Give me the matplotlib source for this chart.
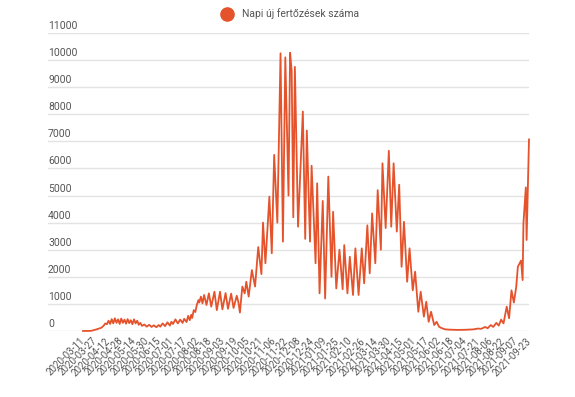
import matplotlib
matplotlib.use("Agg")
import matplotlib.pyplot as plt
from matplotlib.lines import Line2D
import matplotlib.transforms as mtransforms

plt.rcParams['font.family'] = ['Roboto', 'DejaVu Sans']

# ---- data ----
tick_labels = [
    "2020-03-11", "2020-03-27", "2020-04-12", "2020-04-28", "2020-05-14", "2020-05-30",
    "2020-06-15", "2020-07-01", "2020-07-17", "2020-08-02", "2020-08-18", "2020-09-03",
    "2020-09-19", "2020-10-05", "2020-10-21", "2020-11-06", "2020-11-22", "2020-12-08",
    "2020-12-24", "2021-01-09", "2021-01-25", "2021-02-10", "2021-02-26", "2021-03-14",
    "2021-03-30", "2021-04-15", "2021-05-01", "2021-05-17", "2021-06-02", "2021-06-18",
    "2021-07-04", "2021-07-21", "2021-08-06", "2021-08-22", "2021-09-07", "2021-09-23",
]
tick_step = 16

day_index = [
    0, 10, 17, 23, 26, 28, 30, 32, 34, 36, 38, 40, 42, 44, 46, 48, 50, 52, 54, 56, 58, 60,
    62, 64, 66, 68, 70, 72, 74, 77, 80, 83, 86, 89, 92, 95, 97, 100, 103, 106, 109, 111,
    113, 116, 119, 122, 125, 127, 130, 132, 134, 136, 137, 139, 141, 143, 145, 146, 148,
    150, 152, 155, 158, 161, 165, 168, 172, 175, 179, 182, 186, 189, 193, 195, 197, 200,
    203, 205, 208, 212, 216, 220, 224, 226, 229, 234, 237, 240, 244, 248, 251, 254, 258,
    260, 262, 264, 266, 270, 276, 279, 281, 285, 287, 292, 294, 297, 301, 304, 308, 312,
    314, 318, 322, 326, 328, 332, 335, 339, 342, 346, 350, 353, 357, 360, 363, 367, 370,
    374, 376, 380, 384, 387, 390, 394, 397, 400, 403, 407, 410, 414, 417, 421, 424, 428,
    431, 434, 437, 441, 444, 447, 450, 455, 460, 470, 480, 490, 496, 500, 505, 508, 512,
    515, 519, 522, 525, 528, 532, 535, 538, 541, 544, 546, 550, 552, 553, 556, 557, 560,
]
daily_cases = [
    0, 5, 60, 120, 200, 280, 250, 380, 260, 440, 280, 470, 300, 430, 260, 460, 300, 420, 270, 440, 290, 400,
    250, 430, 280, 380, 230, 300, 190, 240, 160, 230, 150, 210, 140, 220, 160, 280, 180, 320, 200, 340,
    260, 430, 280, 420, 300, 450, 330, 560, 400, 600, 480, 770, 700, 980, 1140, 1050, 1270,
    1020, 1330, 960, 1390, 900, 1450, 770, 1450, 800, 1400, 820, 1380, 850, 1300, 1080, 680, 1640,
    1390, 1820, 1270, 2250, 1640, 3100, 2100, 4000, 2500, 4960, 2870, 6500, 4000, 10250, 3300, 10100, 5000,
    10270, 9600, 4200, 9750, 3850, 8100, 3400, 7400, 3300, 6100, 2500, 5450, 1390, 4800, 1200, 5700, 2000,
    4400, 1570, 3000, 1540, 3170, 1390, 2740, 1330, 3050, 1330, 3050, 1760, 3900, 2130, 4340, 2500, 5200,
    3000, 6190, 3800, 6650, 3850, 6190, 3670, 5400, 2370, 4030, 1820, 3050, 1500, 2190, 710, 1450, 530,
    1080, 340, 710, 220, 340, 160, 110, 60, 50, 40, 45, 60, 90, 80, 150, 100, 220,
    150, 300, 200, 420, 280, 900, 470, 1500, 1050, 1640, 2370, 2600, 1880, 3970, 5300, 3360, 7070,
]
y_ticks = [0, 1000, 2000, 3000, 4000, 5000, 6000, 7000, 8000, 9000, 10000, 11000]
series_name = "Napi új fertőzések száma"

# ---- figure ----
W, H = 575, 397
fig = plt.figure(figsize=(W / 100, H / 100), dpi=100)
ax = fig.add_axes([48 / W, 1 - 331 / H, (529 - 48) / W, (331 - 33) / H])

line_color = "#e4532b"
text_color = "#555555"
grid_color = "#e3e3e3"

ax.set_xlim(-44, 560)
ax.set_ylim(0, 11000)

for v in y_ticks:
    ax.axhline(v, color=grid_color, lw=1.0, zorder=0)
    ax.text(0.0, v, str(v), transform=mtransforms.blended_transform_factory(ax.transAxes, ax.transData),
            ha="left", va="bottom", fontsize=7.5, color=text_color)

# shift y labels a bit up via offset
for t in ax.texts:
    t.set_transform(t.get_transform() + mtransforms.ScaledTranslation(0, 2 / 100, fig.dpi_scale_trans))

ax.plot(day_index, daily_cases, color=line_color, lw=1.3, clip_on=False, zorder=3,
        solid_joinstyle="round")

tick_pos = [i * tick_step for i in range(len(tick_labels))]
ax.set_xticks(tick_pos)
ax.set_xticklabels(tick_labels, rotation=45, ha="right", va="center",
                   rotation_mode="anchor", fontsize=7, color=text_color)
ax.tick_params(axis="x", length=0, pad=6)
ax.set_yticks([])
for s in ax.spines.values():
    s.set_visible(False)
ax.patch.set_alpha(0)

# legend
fig.add_artist(Line2D([227 / W], [1 - 14 / H], marker="o", markersize=9.5, color=line_color,
                      linestyle="none", transform=fig.transFigure))
fig.text(242 / W, 1 - 14 / H, series_name, ha="left", va="center", fontsize=7.5, color=text_color)

fig.savefig("out.png", dpi=100)
